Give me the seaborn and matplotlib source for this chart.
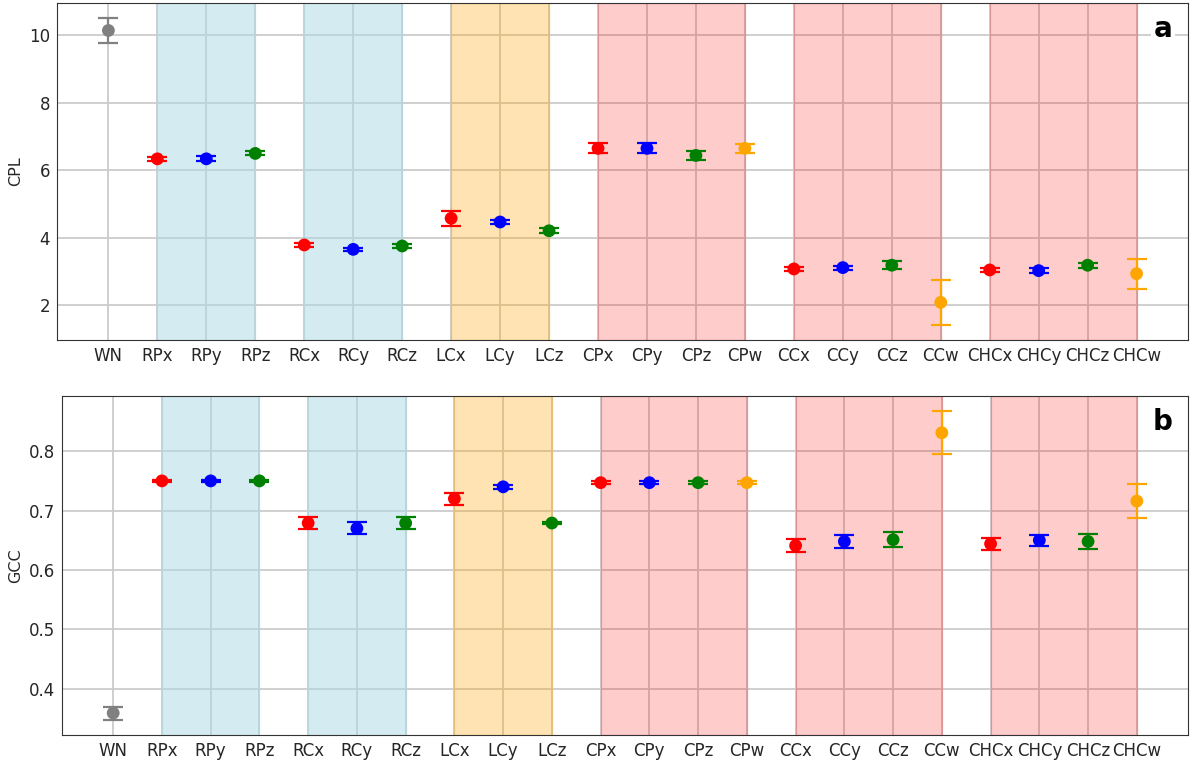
import numpy as np
import pandas as pd
import seaborn as sns
import matplotlib
matplotlib.use("Agg")
import matplotlib.pyplot as plt

labels = ["WN", "RPx", "RPy", "RPz", "RCx", "RCy", "RCz", "LCx", "LCy", "LCz",
          "CPx", "CPy", "CPz", "CPw", "CCx", "CCy", "CCz", "CCw",
          "CHCx", "CHCy", "CHCz", "CHCw"]
axis_kind = ["n", "x", "y", "z", "x", "y", "z", "x", "y", "z",
             "x", "y", "z", "w", "x", "y", "z", "w",
             "x", "y", "z", "w"]

cpl_mean = [10.14, 6.34, 6.34, 6.50, 3.79, 3.66, 3.76, 4.58, 4.47, 4.21,
            6.65, 6.65, 6.44, 6.65, 3.08, 3.12, 3.19, 2.09,
            3.05, 3.03, 3.19, 2.94]
cpl_err = [0.36, 0.06, 0.07, 0.06, 0.06, 0.05, 0.06, 0.23, 0.06, 0.07,
           0.15, 0.15, 0.14, 0.14, 0.06, 0.06, 0.12, 0.66,
           0.07, 0.07, 0.08, 0.44]

gcc_mean = [0.359, 0.750, 0.750, 0.750, 0.679, 0.670, 0.679, 0.720, 0.740, 0.679,
            0.747, 0.747, 0.747, 0.747, 0.641, 0.648, 0.651, 0.831,
            0.644, 0.650, 0.648, 0.716]
gcc_err = [0.011, 0.002, 0.002, 0.002, 0.010, 0.010, 0.010, 0.010, 0.003, 0.002,
           0.002, 0.002, 0.002, 0.002, 0.011, 0.011, 0.013, 0.036,
           0.010, 0.009, 0.012, 0.029]

# shaded groups: (first label, last label, colour, alpha)
spans = [("RPx", "RPz", "lightblue", 0.5), ("RCx", "RCz", "lightblue", 0.5),
         ("LCx", "LCz", "orange", 0.3), ("CPx", "CPw", "red", 0.2),
         ("CCx", "CCw", "red", 0.2), ("CHCx", "CHCw", "red", 0.2)]

palette = {"n": "gray", "x": "red", "y": "blue", "z": "green", "w": "orange"}

df = pd.DataFrame({"label": labels, "kind": axis_kind,
                   "CPL": cpl_mean, "CPL_err": cpl_err,
                   "GCC": gcc_mean, "GCC_err": gcc_err})

sns.set_style("whitegrid", {"axes.edgecolor": "0.2", "grid.color": "0.8",
                            "axes.linewidth": 1.5})
plt.rcParams["font.family"] = ["DejaVu Sans"]

fig = plt.figure(figsize=(11.92, 7.62), dpi=100)
ax_a = fig.add_axes([57 / 1192, (762 - 340) / 762, 1131 / 1192, 337 / 762])
ax_b = fig.add_axes([62 / 1192, (762 - 735) / 762, 1126 / 1192, 339 / 762])

pos = {lab: i for i, lab in enumerate(labels)}

for ax, col, tag in [(ax_a, "CPL", "a"), (ax_b, "GCC", "b")]:
    for start, end, c, a in spans:
        ax.axvspan(pos[start], pos[end], color=c, alpha=a)
    for i, row in df.iterrows():
        ax.errorbar(i, row[col], yerr=row[col + "_err"], fmt="none",
                    ecolor=palette[row["kind"]], elinewidth=1.6,
                    capsize=7, capthick=1.6, zorder=3)
    sns.scatterplot(data=df, x="label", y=col, hue="kind", palette=palette,
                    s=85, edgecolor="none", legend=False, ax=ax, zorder=4)
    ax.set_xlim(-1.05, 22.05)
    ax.set_xlabel("")
    ax.set_ylabel(col, fontsize=11.5)
    ax.tick_params(labelsize=12, length=0, pad=5)
    ax.grid(True, linewidth=1.3)
    ax.text(0.986, 0.965, tag, transform=ax.transAxes, ha="right", va="top",
            fontsize=20, fontweight="bold", color="black",
            bbox=dict(facecolor="white", edgecolor="none", pad=2))

ax_a.set_yticks([2, 4, 6, 8, 10])
ax_b.set_yticks([0.4, 0.5, 0.6, 0.7, 0.8])

fig.savefig("out.png", dpi=100)
